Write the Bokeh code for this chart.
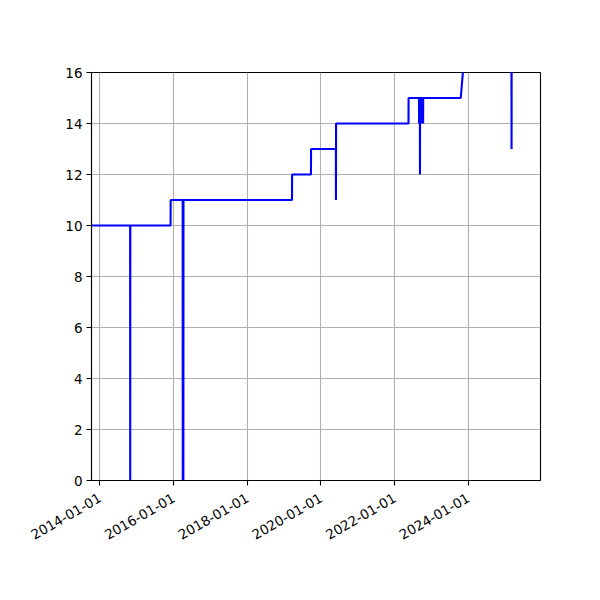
import math
import pandas as pd
from bokeh.plotting import figure
from bokeh.models import ColumnDataSource, Range1d, FixedTicker, DatetimeTickFormatter
from bokeh.embed import file_html
from bokeh.resources import INLINE

# Data (date, value) transition points
dates = [
    "2013-09-01", "2014-10-27", "2014-10-28", "2014-10-29",
    "2015-12-02", "2015-12-03",
    "2016-03-31", "2016-04-01", "2016-04-02",
    "2016-04-06", "2016-04-07", "2016-04-08",
    "2019-03-20", "2019-03-21",
    "2019-09-24", "2019-09-25",
    "2020-05-28", "2020-05-29", "2020-05-30",
    "2022-05-18", "2022-05-19",
    "2022-08-30", "2022-08-31", "2022-09-01",
    "2022-09-08", "2022-09-09", "2022-09-10",
    "2022-09-18", "2022-09-19", "2022-09-20",
    "2022-09-28", "2022-09-29", "2022-09-30",
    "2022-10-09", "2022-10-10", "2022-10-11",
    "2023-10-18", "2023-11-30",
    "2025-03-04", "2025-03-05", "2025-03-06",
    "2025-12-31",
]
values = [
    10, 10, 0, 10,
    10, 11,
    11, 0, 11,
    11, 0, 11,
    11, 12,
    12, 13,
    13, 11, 14,
    14, 15,
    15, 14, 15,
    15, 12, 15,
    15, 14, 15,
    15, 14, 15,
    15, 14, 15,
    15, 17,
    17, 13, 17,
    17,
]
x_ticks = ["2014-01-01", "2016-01-01", "2018-01-01", "2020-01-01", "2022-01-01", "2024-01-01"]
y_ticks = [0, 2, 4, 6, 8, 10, 12, 14, 16]
x_start, x_end = "2013-10-09", "2025-12-17"
y_start, y_end = 0, 16

source = ColumnDataSource(data=dict(date=pd.to_datetime(dates), value=values))

p = figure(
    width=592, height=568,
    x_axis_type="datetime",
    output_backend="svg", toolbar_location=None,
    x_range=Range1d(pd.Timestamp(x_start), pd.Timestamp(x_end)),
    y_range=Range1d(y_start, y_end),
    min_border_left=91, min_border_right=52, min_border_top=72, min_border_bottom=88,
)
p.background_fill_color = "white"
p.border_fill_color = "white"
p.outline_line_color = "black"
p.outline_line_width = 1.1
p.outline_line_alpha = 1

p.line(x="date", y="value", source=source, line_color="#0000ff", line_width=2.1)

tick_ms = [pd.Timestamp(t).value / 1e6 for t in x_ticks]
p.xaxis.ticker = FixedTicker(ticks=tick_ms)
fmt = "%Y-%m-%d"
p.xaxis.formatter = DatetimeTickFormatter(
    years=fmt, months=fmt, days=fmt, hours=fmt, minutes=fmt, seconds=fmt,
    milliseconds=fmt, microseconds=fmt, hourmin=fmt, minsec=fmt,
)
p.xaxis.major_label_orientation = math.pi / 6
p.yaxis.ticker = FixedTicker(ticks=y_ticks)

for ax in (p.xaxis, p.yaxis):
    ax.axis_line_color = "black"
    ax.axis_line_width = 1.1
    ax.major_tick_line_color = "black"
    ax.major_tick_line_width = 1.1
    ax.major_tick_out = 5
    ax.major_tick_in = 0
    ax.minor_tick_line_color = None
    ax.major_label_text_font = "DejaVu Sans"
    ax.major_label_text_font_size = "13.5px"
    ax.major_label_text_color = "black"
    ax.major_label_standoff = 4
p.xaxis.major_label_standoff = 11

p.grid.grid_line_color = "#b0b0b0"
p.grid.grid_line_width = 1.1
p.grid.grid_line_alpha = 1

open("out.html", "w").write(file_html(p, INLINE))
